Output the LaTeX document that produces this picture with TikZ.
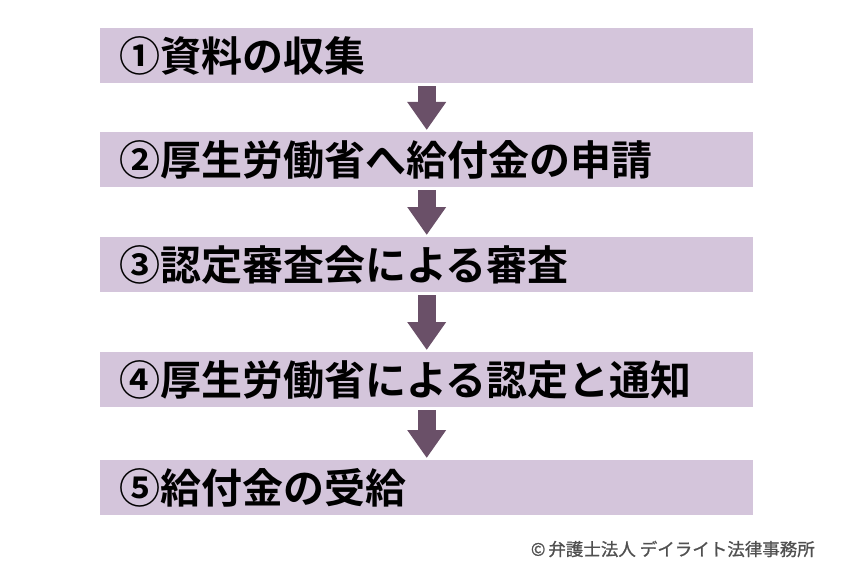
\documentclass[tikz,border=0pt]{standalone}
\usepackage{fontspec}
\setmainfont{Noto Sans CJK JP}
\newfontfamily\cjkbold{Noto Sans CJK JP Bold}
\newfontfamily\cjkmed[FakeBold=1]{Noto Sans CJK JP}
\usetikzlibrary{arrows.meta}
\definecolor{boxfill}{RGB}{212,197,219}
\definecolor{arrowc}{RGB}{106,80,104}
\definecolor{credit}{RGB}{80,80,80}
\tikzset{
  x=1pt, y=-1pt,
  stepbox/.style={anchor=north west, fill=boxfill, draw=none, minimum width=653pt,
    minimum height=55pt, text width=615pt, inner xsep=19pt, inner ysep=0pt, align=left,
    font=\cjkbold\fontsize{41pt}{44pt}\selectfont, text=black},
  flowarrow/.style={draw=arrowc, line width=18pt, -{Triangle[width=37pt,length=28pt]},
    shorten <=3pt, shorten >=2pt}
}
\begin{document}
\begin{tikzpicture}
\useasboundingbox (0,0) rectangle (850,575);
\node[stepbox] (b1) at (100,28) {①資料の収集};
\node[stepbox] (b2) at (100,132) {②厚生労働省へ給付金の申請};
\node[stepbox] (b3) at (100,237) {③認定審査会による審査};
\node[stepbox] (b4) at (100,352) {④厚生労働省による認定と通知};
\node[stepbox] (b5) at (100,460) {⑤給付金の受給};
\draw[flowarrow] (b1.south) -- (b2.north);
\draw[flowarrow] (b2.south) -- (b3.north);
\draw[flowarrow] (b3.south) -- (b4.north);
\draw[flowarrow] (b4.south) -- (b5.north);
\node[anchor=east, inner sep=0pt, text=credit, font=\cjkmed\fontsize{17.5pt}{20pt}\selectfont] (cr) at (815,549) {©\,弁護士法人 デイライト法律事務所};
\end{tikzpicture}
\end{document}
